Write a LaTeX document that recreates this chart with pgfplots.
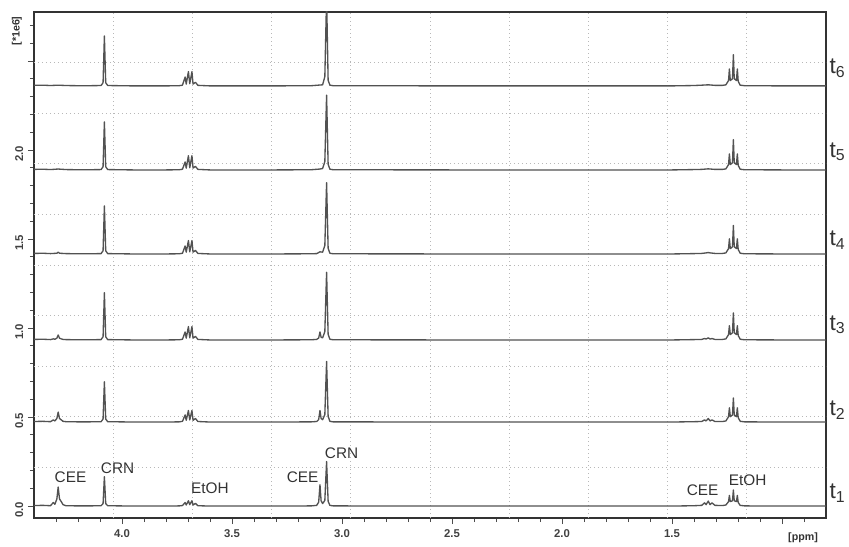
\documentclass[border=0pt]{standalone}
\usepackage{pgfplots}
\pgfplotsset{compat=1.18}
\usepackage{pgfplotstable}
\usepackage{fontspec}
\setmainfont{Liberation Sans}
\definecolor{spec}{HTML}{525252}
\definecolor{gridc}{HTML}{B8B8B8}

% t1
\pgfplotstableread{
x y
4.40 0.003
4.36 0.004
4.325 0.002
4.312 0.02
4.305 0.01
4.296 0.04
4.290 0.107
4.284 0.04
4.276 0.025
4.268 0.008
4.255 0.002
4.20 0.001
4.15 0.001
4.095 0.002
4.086 0.014
4.080 0.165
4.074 0.014
4.065 0.002
3.95 0
3.80 0
3.74 0.001
3.725 0.003
3.713 0.02
3.708 0.006
3.698 0.03
3.692 0.008
3.682 0.03
3.677 0.006
3.666 0.015
3.655 0.002
3.60 0
3.30 0
3.14 0.001
3.115 0.004
3.106 0.022
3.100 0.12
3.095 0.03
3.088 0.014
3.078 0.032
3.070 0.25
3.063 0.027
3.055 0.004
3.04 0.001
2.5 0
1.5 0
1.40 0.002
1.365 0.004
1.352 0.018
1.345 0.008
1.335 0.028
1.327 0.008
1.318 0.018
1.305 0.004
1.27 0.003
1.255 0.006
1.243 0.025
1.239 0.06
1.235 0.025
1.225 0.03
1.221 0.09
1.217 0.03
1.207 0.025
1.203 0.06
1.199 0.02
1.19 0.004
1.17 0.001
1.0 0
0.80 0
}\tA

% t2
\pgfplotstableread{
x y
4.40 0.003
4.36 0.004
4.325 0.002
4.312 0.012
4.305 0.006
4.296 0.02
4.290 0.056
4.284 0.02
4.276 0.012
4.268 0.004
4.255 0.002
4.20 0.001
4.15 0.001
4.095 0.002
4.086 0.017
4.080 0.226
4.074 0.017
4.065 0.002
3.95 0
3.80 0
3.74 0.001
3.725 0.004
3.713 0.04
3.708 0.01
3.698 0.065
3.692 0.012
3.682 0.065
3.677 0.01
3.666 0.02
3.655 0.003
3.60 0
3.30 0
3.14 0.001
3.115 0.003
3.106 0.014
3.100 0.065
3.095 0.02
3.088 0.013
3.078 0.042
3.070 0.34
3.063 0.032
3.055 0.004
3.04 0.001
2.5 0
1.5 0
1.40 0.002
1.365 0.003
1.352 0.012
1.345 0.006
1.335 0.02
1.327 0.006
1.318 0.012
1.305 0.003
1.27 0.003
1.255 0.006
1.243 0.03
1.239 0.08
1.235 0.03
1.225 0.04
1.221 0.135
1.217 0.04
1.207 0.03
1.203 0.08
1.199 0.025
1.19 0.004
1.17 0.001
1.0 0
0.80 0
}\tB

% t3
\pgfplotstableread{
x y
4.40 0.003
4.36 0.004
4.325 0.002
4.312 0.006
4.305 0.004
4.296 0.01
4.290 0.028
4.284 0.01
4.276 0.006
4.268 0.003
4.255 0.002
4.20 0.001
4.15 0.001
4.095 0.002
4.086 0.018
4.080 0.265
4.074 0.018
4.065 0.002
3.95 0
3.80 0
3.74 0.001
3.725 0.004
3.713 0.045
3.708 0.01
3.698 0.075
3.692 0.012
3.682 0.075
3.677 0.01
3.666 0.02
3.655 0.003
3.60 0
3.30 0
3.14 0.001
3.115 0.003
3.106 0.011
3.100 0.045
3.095 0.015
3.088 0.012
3.078 0.047
3.070 0.38
3.063 0.032
3.055 0.004
3.04 0.001
2.5 0
1.5 0
1.40 0.002
1.365 0.003
1.352 0.008
1.345 0.005
1.335 0.012
1.327 0.005
1.318 0.008
1.305 0.003
1.27 0.003
1.255 0.006
1.243 0.03
1.239 0.08
1.235 0.03
1.225 0.04
1.221 0.152
1.217 0.04
1.207 0.03
1.203 0.08
1.199 0.025
1.19 0.004
1.17 0.001
1.0 0
0.80 0
}\tC

% t4
\pgfplotstableread{
x y
4.40 0.003
4.36 0.004
4.325 0.002
4.296 0.004
4.290 0.01
4.284 0.004
4.255 0.002
4.20 0.001
4.15 0.001
4.095 0.002
4.086 0.018
4.080 0.27
4.074 0.018
4.065 0.002
3.95 0
3.80 0
3.74 0.001
3.725 0.004
3.713 0.045
3.708 0.01
3.698 0.075
3.692 0.012
3.682 0.075
3.677 0.01
3.666 0.02
3.655 0.003
3.60 0
3.30 0
3.14 0.001
3.115 0.002
3.100 0.012
3.088 0.01
3.078 0.047
3.070 0.40
3.063 0.032
3.055 0.004
3.04 0.001
2.5 0
1.5 0
1.40 0.002
1.365 0.003
1.345 0.006
1.335 0.008
1.327 0.006
1.305 0.003
1.27 0.003
1.255 0.006
1.243 0.03
1.239 0.085
1.235 0.03
1.225 0.04
1.221 0.16
1.217 0.04
1.207 0.03
1.203 0.085
1.199 0.025
1.19 0.004
1.17 0.001
1.0 0
0.80 0
}\tD

% t5
\pgfplotstableread{
x y
4.40 0.003
4.36 0.004
4.325 0.002
4.290 0.005
4.255 0.002
4.20 0.001
4.15 0.001
4.095 0.002
4.086 0.018
4.080 0.27
4.074 0.018
4.065 0.002
3.95 0
3.80 0
3.74 0.001
3.725 0.004
3.713 0.045
3.708 0.01
3.698 0.08
3.692 0.012
3.682 0.08
3.677 0.01
3.666 0.02
3.655 0.003
3.60 0
3.30 0
3.14 0.001
3.100 0.005
3.088 0.008
3.078 0.047
3.070 0.42
3.063 0.032
3.055 0.004
3.04 0.001
2.5 0
1.5 0
1.40 0.002
1.365 0.003
1.335 0.006
1.305 0.003
1.27 0.003
1.255 0.006
1.243 0.03
1.239 0.09
1.235 0.03
1.225 0.04
1.221 0.17
1.217 0.04
1.207 0.03
1.203 0.09
1.199 0.025
1.19 0.004
1.17 0.001
1.0 0
0.80 0
}\tE

% t6
\pgfplotstableread{
x y
4.40 0.003
4.36 0.004
4.325 0.002
4.290 0.004
4.255 0.002
4.20 0.001
4.15 0.001
4.095 0.002
4.086 0.018
4.080 0.28
4.074 0.018
4.065 0.002
3.95 0
3.80 0
3.74 0.001
3.725 0.004
3.713 0.05
3.708 0.01
3.698 0.08
3.692 0.012
3.682 0.08
3.677 0.01
3.666 0.02
3.655 0.003
3.60 0
3.30 0
3.14 0.001
3.088 0.006
3.078 0.052
3.070 0.50
3.063 0.032
3.055 0.004
3.04 0.001
2.5 0
1.5 0
1.40 0.002
1.365 0.004
1.335 0.006
1.305 0.003
1.27 0.003
1.255 0.006
1.243 0.03
1.239 0.095
1.235 0.03
1.225 0.04
1.221 0.175
1.217 0.04
1.207 0.03
1.203 0.095
1.199 0.025
1.19 0.004
1.17 0.001
1.0 0
0.80 0
}\tF

\begin{document}
\begin{tikzpicture}
\useasboundingbox (-25.5pt,-21pt) rectangle (611.25pt,388.5pt);
\begin{axis}[
  at={(0pt,0pt)}, anchor=south west,
  scale only axis, width=594pt, height=379.5pt,
  x dir=reverse, xmin=0.80, xmax=4.40,
  ymin=-0.067, ymax=2.775,
  xtick={1.0,1.5,2.0,2.5,3.0,3.5,4.0},
  xticklabels={,1.5,2.0,2.5,3.0,3.5,4.0},
  minor xtick={0.9,1.1,1.2,1.3,1.4,1.6,1.7,1.8,1.9,2.1,2.2,2.3,2.4,2.6,2.7,2.8,2.9,3.1,3.2,3.3,3.4,3.6,3.7,3.8,3.9,4.1,4.2,4.3},
  ytick={0,0.5,1.0,1.5,2.0,2.5},
  yticklabels={0.0,0.5,1.0,1.5,2.0,},
  minor ytick={0.1,0.2,0.3,0.4,0.6,0.7,0.8,0.9,1.1,1.2,1.3,1.4,1.6,1.7,1.8,1.9,2.1,2.2,2.3,2.4,2.6,2.7},
  tick align=outside, xtick pos=bottom, ytick pos=left,
  major tick length=4.5pt, minor tick length=3pt,
  every tick/.style={black!70, line width=0.6pt},
  axis line style={black!80, line width=0.8pt},
  ticklabel style={font=\bfseries\fontsize{8.5}{10}\selectfont, text=black!75},
  xticklabel style={yshift=-1pt},
  yticklabel style={rotate=90, anchor=south, xshift=-3pt},
  clip mode=individual,
]
\pgfplotsinvokeforeach{0.1,0.2,0.3,0.4,0.5,0.6,0.7,0.8,0.9}{
  \draw[gridc, line width=0.6pt, dash pattern=on 0.8pt off 2.2pt] (rel axis cs:#1,0) -- (rel axis cs:#1,1);
  \draw[gridc, line width=0.6pt, dash pattern=on 0.8pt off 2.2pt] (rel axis cs:0,#1) -- (rel axis cs:1,#1);
}
\addplot[spec, line width=1.0pt, line join=round] table[x=x, y expr=\thisrow{y}+0.0] {\tA};
\addplot[spec, line width=1.0pt, line join=round] table[x=x, y expr=\thisrow{y}+0.472] {\tB};
\addplot[spec, line width=1.0pt, line join=round] table[x=x, y expr=\thisrow{y}+0.933] {\tC};
\addplot[spec, line width=1.0pt, line join=round] table[x=x, y expr=\thisrow{y}+1.416] {\tD};
\addplot[spec, line width=1.0pt, line join=round] table[x=x, y expr=\thisrow{y}+1.888] {\tE};
\addplot[spec, line width=1.0pt, line join=round] table[x=x, y expr=\thisrow{y}+2.360] {\tF};

\begin{scope}[every node/.style={font=\fontsize{11.5}{13}\selectfont, text=black!80, inner sep=0pt}]
\node at (axis cs:4.234,0.163) {CEE};
\node at (axis cs:4.020,0.213) {CRN};
\node at (axis cs:3.600,0.101) {EtOH};
\node at (axis cs:3.179,0.163) {CEE};
\node at (axis cs:3.002,0.298) {CRN};
\node at (axis cs:1.361,0.090) {CEE};
\node at (axis cs:1.156,0.146) {EtOH};
\end{scope}

\begin{scope}[every node/.style={font=\fontsize{17}{19}\selectfont, text=black!80, anchor=west, inner sep=0pt}]
\node at ([xshift=2.5pt]axis cs:0.80,0.073) {t\textsubscript{1}};
\node at ([xshift=2.5pt]axis cs:0.80,0.539) {t\textsubscript{2}};
\node at ([xshift=2.5pt]axis cs:0.80,1.017) {t\textsubscript{3}};
\node at ([xshift=2.5pt]axis cs:0.80,1.494) {t\textsubscript{4}};
\node at ([xshift=2.5pt]axis cs:0.80,1.990) {t\textsubscript{5}};
\node at ([xshift=2.5pt]axis cs:0.80,2.460) {t\textsubscript{6}};
\end{scope}

\node[font=\bfseries\fontsize{8}{9}\selectfont, text=black!80, anchor=base] at ([yshift=-16.5pt]rel axis cs:0.971,0) {[ppm]};
\node[font=\bfseries\fontsize{8}{9}\selectfont, text=black!80, rotate=90] at ([xshift=-12.75pt,yshift=-14.25pt]rel axis cs:0,1) {[*1e6]};
\end{axis}
\end{tikzpicture}
\end{document}
